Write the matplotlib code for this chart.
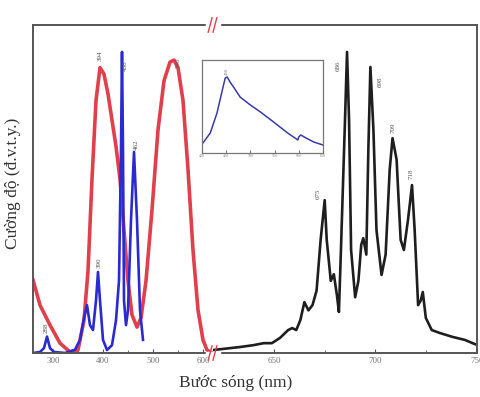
import matplotlib
matplotlib.use('Agg')
import matplotlib.pyplot as plt
from matplotlib.lines import Line2D
import numpy as np

plt.rcParams['font.family'] = ['Liberation Serif', 'DejaVu Serif']

### (1) Data ###
# red curve (left part, nm / a.u.)
red_wl = [260, 274, 294, 314, 334, 350, 362, 370, 378, 386, 394, 402, 410, 418,
          426, 434, 442, 450, 458, 468, 476, 486, 498, 510, 522, 534, 542, 550,
          560, 570, 580, 590, 600, 608, 618]
red_int = [0.223, 0.146, 0.085, 0.030, 0.003, 0.009, 0.10, 0.25, 0.53, 0.77,
           0.87, 0.85, 0.79, 0.71, 0.63, 0.53, 0.375, 0.22, 0.116, 0.079,
           0.107, 0.22, 0.436, 0.68, 0.83, 0.887, 0.893, 0.87, 0.77, 0.56,
           0.314, 0.131, 0.040, 0.009, 0.0]

# blue curve (left part)
blue_wl = [260, 274, 282, 288, 294, 302, 324, 344, 354, 362, 368, 374, 380,
           386, 390, 394, 400, 408, 418, 426, 432, 436, 438, 440, 442, 446,
           450, 456, 462, 468, 474, 480]
blue_int = [0.0, 0.003, 0.015, 0.05, 0.015, 0.003, 0.0, 0.01, 0.04, 0.107,
            0.146, 0.085, 0.07, 0.16, 0.247, 0.16, 0.04, 0.009, 0.024, 0.10,
            0.22, 0.62, 0.918, 0.62, 0.16, 0.085, 0.13, 0.405, 0.613, 0.405,
            0.131, 0.04]

# black curve (right part)
blk_wl = [620, 633, 640, 645, 649, 653, 657, 659, 661, 663, 665, 667, 669,
          671, 673, 675, 676, 678, 679.5, 681, 682, 683, 685, 686, 687, 688,
          690, 691.6, 693, 694, 695.5, 696.5, 697.5, 699, 700.5, 703, 705,
          707, 708.4, 710.4, 712.4, 714, 716, 718, 719.3, 721, 722.3, 723.3,
          724.8, 727.7, 731.7, 738, 744, 749]
blk_int = [0.009, 0.018, 0.024, 0.03, 0.03, 0.046, 0.07, 0.076, 0.07, 0.10,
           0.155, 0.13, 0.146, 0.19, 0.345, 0.466, 0.345, 0.22, 0.24, 0.177,
           0.125, 0.314, 0.71, 0.918, 0.71, 0.314, 0.17, 0.22, 0.33, 0.35,
           0.30, 0.62, 0.872, 0.68, 0.375, 0.238, 0.30, 0.558, 0.655, 0.59,
           0.345, 0.314, 0.405, 0.512, 0.375, 0.146, 0.16, 0.186, 0.107,
           0.07, 0.061, 0.049, 0.04, 0.027]

# inset curve
ins_x = [402, 417, 431, 442, 448, 452, 458, 465, 479, 500, 521, 548, 577,
         598, 600, 604, 615, 631, 650]
ins_y = [0.108, 0.215, 0.43, 0.677, 0.806, 0.817, 0.763, 0.71, 0.60, 0.516,
         0.44, 0.333, 0.215, 0.14, 0.172, 0.194, 0.161, 0.118, 0.086]

# peak labels
red_peaks = ['394', '540']
blue_peaks = ['288', '390', '438', '462']
blk_peaks = ['675', '686', '698', '709', '718']

### (2) Figure ###
fig = plt.figure(figsize=(4.8, 3.97), dpi=100)
ax1 = fig.add_axes([33/480, 44/397, 180/480, 328/397])
ax2 = fig.add_axes([213/480, 44/397, 264/480, 328/397], sharey=ax1)

c_red = '#e0404c'
c_blue = '#2a2ad0'
c_blk = '#1e1e1e'
frame = '#555555'

ax1.plot(red_wl, red_int, color=c_red, lw=2.6, solid_joinstyle='round')
ax1.plot(blue_wl, blue_int, color=c_blue, lw=1.9, solid_joinstyle='round')
ax2.plot(blk_wl, blk_int, color=c_blk, lw=1.9, solid_joinstyle='round')

ax1.set_xlim(260, 620)
ax2.set_xlim(620, 750)
ax1.set_ylim(0, 1)

ax1.set_xticks([300, 400, 500, 600])
ax1.set_xticks([350, 450, 550], minor=True)
ax2.set_xticks([650, 700, 750])
ax2.set_xticks([675, 725], minor=True)
for ax in (ax1, ax2):
    ax.set_yticks([])
    ax.tick_params(axis='x', which='both', direction='in', labelsize=6.5,
                   labelcolor='#777777', color=frame, pad=3)
    ax.tick_params(axis='x', which='major', length=3)
    ax.tick_params(axis='x', which='minor', length=2)
    for s in ax.spines.values():
        s.set_color(frame)
        s.set_linewidth(1.4)
ax1.spines['right'].set_visible(False)
ax2.spines['left'].set_visible(False)
ax2.tick_params(axis='y', which='both', left=False, labelleft=False)

# peak labels
kw = dict(rotation=90, fontsize=5, color='#555555', ha='center', va='bottom')
ax1.text(395, 0.89, red_peaks[0], **kw)
ax1.text(551, 0.87, red_peaks[1], **kw)
ax1.text(286, 0.06, blue_peaks[0], **kw)
ax1.text(392, 0.26, blue_peaks[1], **kw)
ax1.text(444, 0.86, blue_peaks[2], **kw)
ax1.text(467, 0.62, blue_peaks[3], **kw)
ax2.text(672, 0.47, blk_peaks[0], **kw)
ax2.text(681.5, 0.86, blk_peaks[1], **kw)
ax2.text(702.5, 0.81, blk_peaks[2], **kw)
ax2.text(708.5, 0.67, blk_peaks[3], **kw)
ax2.text(717.5, 0.53, blk_peaks[4], **kw)

# axis break marks
bx = 213/480
for by in (44/397, 372/397):
    fig.add_artist(Line2D([bx-0.012, bx+0.012], [by, by], color='white',
                          lw=2.5, transform=fig.transFigure))
    for dx in (-0.006, 0.004):
        fig.add_artist(Line2D([bx+dx-0.004, bx+dx+0.004], [by-0.018, by+0.018],
                              color=c_red, lw=1.0, transform=fig.transFigure))

# labels
fig.text(236/480, 14/397, 'Bước sóng (nm)', ha='center', va='center',
         fontsize=12.5, color='#333333')
fig.text(13/480, 214/397, 'Cường độ (đ.v.t.y.)', ha='center', va='center',
         rotation=90, fontsize=12.5, color='#333333')

### (3) Inset ###
axi = fig.add_axes([202/480, 244/397, 121/480, 93/397])
axi.plot(ins_x, ins_y, color='#3a3aa8', lw=1.1)
axi.set_xlim(400, 650)
axi.set_ylim(0, 1)
axi.set_yticks([])
axi.set_xticks([400, 450, 500, 550, 600, 650])
axi.tick_params(axis='x', direction='in', length=2, labelsize=3,
                labelcolor='#888888', color='#777777', pad=1)
for s in axi.spines.values():
    s.set_color('#777777')
    s.set_linewidth(0.9)
axi.text(452, 0.84, '450', rotation=90, fontsize=3.5, color='#777777',
         ha='center', va='bottom')

fig.savefig('out.png', dpi=100)
